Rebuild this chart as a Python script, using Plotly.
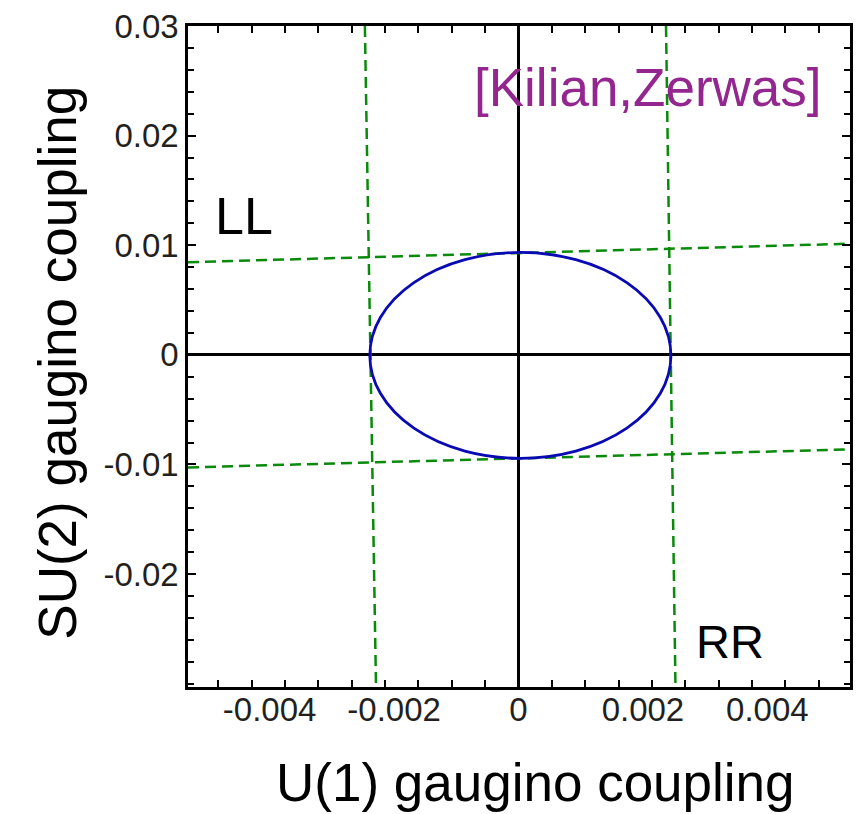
import plotly.graph_objects as go

# Axis ranges (data units)
x_range = [-0.005312, 0.005328]
y_range = [-0.0303, 0.03]

# Tick labels
x_tick_vals = [-0.004, -0.002, 0, 0.002, 0.004]
x_tick_text = ["-0.004", "-0.002", "0", "0.002", "0.004"]
y_tick_vals = [-0.02, -0.01, 0, 0.01, 0.02, 0.03]
y_tick_text = ["-0.02", "-0.01", "0", "0.01", "0.02", "0.03"]
x_minor_step = 0.000536
y_minor_step = 0.002

# Green dashed bounds
upper_x = [-0.005312, 0.005328]
upper_y = [0.00845, 0.01014]
lower_x = [-0.005312, 0.005328]
lower_y = [-0.01027, -0.00862]
left_x = [-0.002469, -0.00229]
left_y = [0.03, -0.0303]
right_x = [0.002371, 0.002523]
right_y = [0.03, -0.0303]

# Blue ellipse: centre and semi-axes
ell_cx, ell_cy = 0.00003, -0.00005
ell_a, ell_b = 0.00242, 0.00939

green = "#0a8a0a"
blue = "#0a0ab4"
purple = "#94268f"
tickc = "#231f20"

fig = go.Figure()
for xs, ys in [(upper_x, upper_y), (lower_x, lower_y), (left_x, left_y), (right_x, right_y)]:
    fig.add_trace(go.Scatter(x=xs, y=ys, mode="lines",
                             line=dict(color=green, width=2.5, dash="11px,6px"),
                             showlegend=False, hoverinfo="skip"))

fig.add_shape(type="circle", xref="x", yref="y",
              x0=ell_cx - ell_a, x1=ell_cx + ell_a,
              y0=ell_cy - ell_b, y1=ell_cy + ell_b,
              line=dict(color=blue, width=2.8), layer="above")

font_main = "Liberation Sans, Arial, sans-serif"

fig.update_layout(
    width=861, height=814,
    margin=dict(l=188, r=8, t=24, b=127),
    paper_bgcolor="white", plot_bgcolor="white",
    font=dict(family=font_main, color=tickc),
    xaxis=dict(range=x_range, tickmode="array", tickvals=x_tick_vals, ticktext=x_tick_text,
               ticks="", showline=True, linecolor="black", linewidth=2.5, mirror="ticks",
               showgrid=False, zeroline=True, zerolinecolor="black", zerolinewidth=2.5,
               tickfont=dict(size=33, color=tickc), ticklabelstandoff=-8,
               minor=dict(ticks="inside", tick0=0, dtick=x_minor_step, ticklen=7,
                          tickwidth=2, tickcolor="black", showgrid=False)),
    yaxis=dict(range=y_range, tickmode="array", tickvals=y_tick_vals, ticktext=y_tick_text,
               ticks="inside", ticklen=8, tickwidth=2, tickcolor="black",
               showline=True, linecolor="black", linewidth=2.5, mirror="ticks",
               showgrid=False, zeroline=True, zerolinecolor="black", zerolinewidth=2.5,
               tickfont=dict(size=33, color=tickc),
               minor=dict(ticks="inside", tick0=0, dtick=y_minor_step, ticklen=6,
                          tickwidth=2, tickcolor="black", showgrid=False)),
)

annotations = [
    dict(text="U(1) gaugino coupling", x=0.525, y=-0.1448, font=dict(size=53, color="black"),
         textangle=0),
    dict(text="SU(2) gaugino coupling", x=-0.197, y=0.490, font=dict(size=53, color="black"),
         textangle=-90),
    dict(text="LL", x=0.0842, y=0.7119, font=dict(size=52, color="black"), textangle=0),
    dict(text="RR", x=0.818, y=0.0686, font=dict(size=47, color="black"), textangle=0),
    dict(text="[Kilian,Zerwas]", x=0.6947, y=0.9065, font=dict(size=53, color=purple), textangle=0),
]
for a in annotations:
    fig.add_annotation(xref="paper", yref="paper", showarrow=False,
                       xanchor="center", yanchor="middle", **a)

fig.write_html("out.html")
